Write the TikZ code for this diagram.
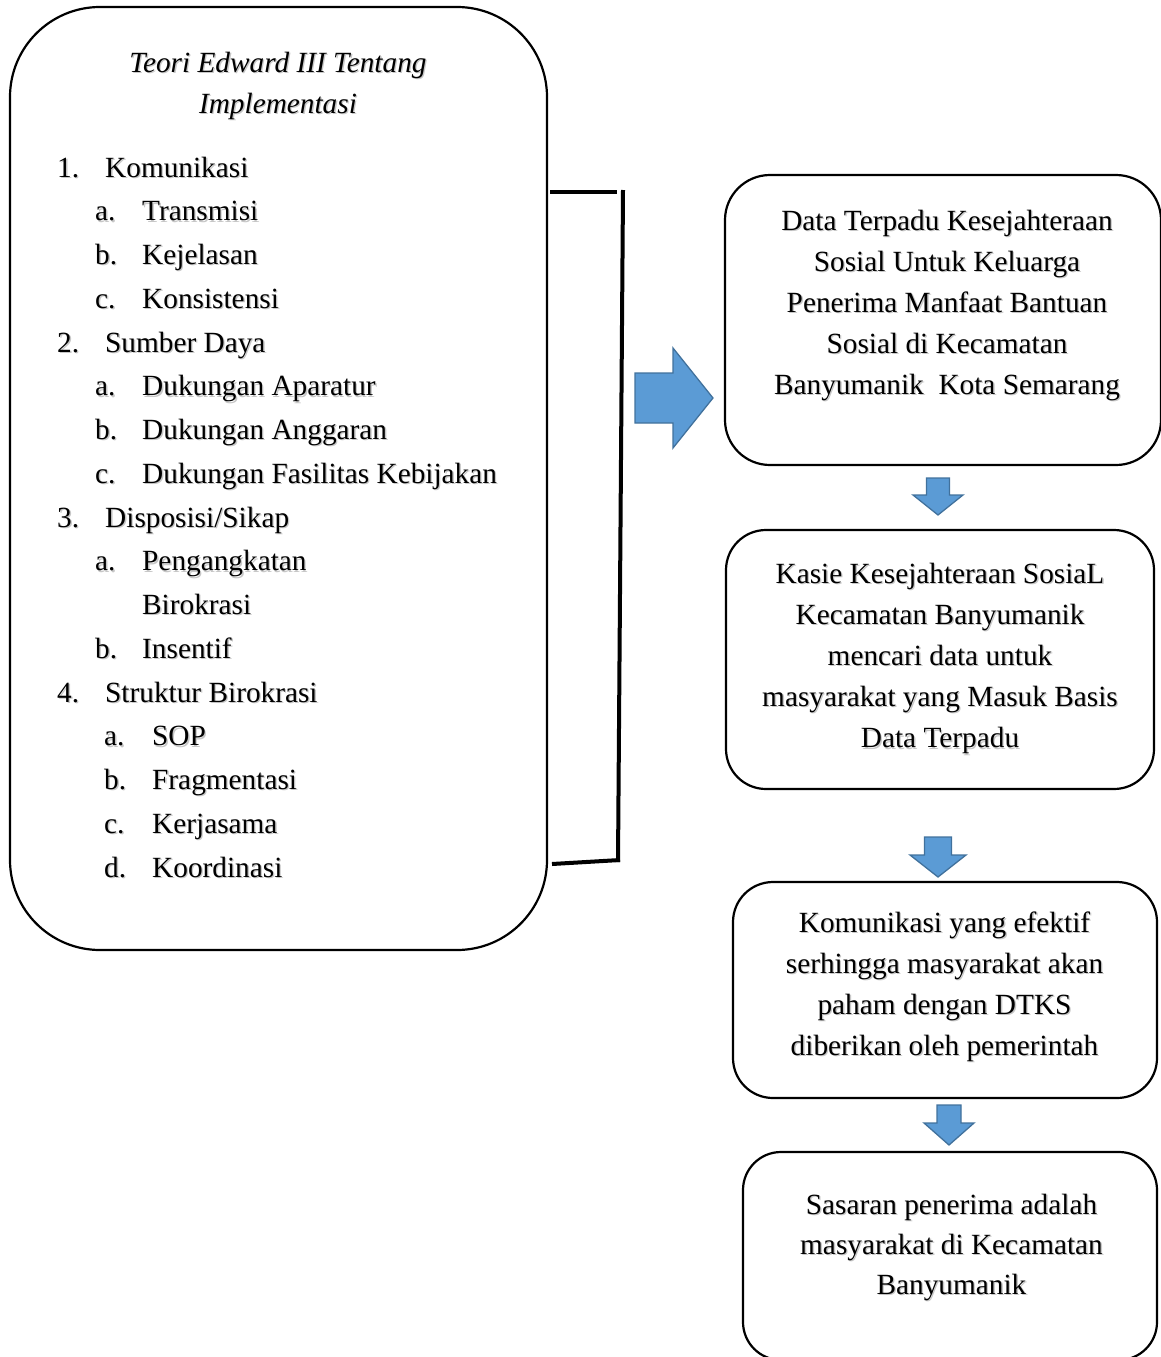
\documentclass[tikz,border=0pt]{standalone}
\usepackage{fontspec}
\setmainfont{Liberation Serif}
\usetikzlibrary{fit}
\definecolor{arrowfill}{HTML}{5B9BD5}
\definecolor{arrowline}{HTML}{41719C}
% text with a soft drop shadow
\newcommand\shd[1]{\leavevmode\rlap{\kern1.3pt\raisebox{-1.3pt}{\textcolor{black!22}{#1}}}#1}
% downward block arrow: centre x, top y, shoulder y, tip y, shaft half width, head half width
\newcommand\downblock[6]{%
  \draw[blockarrow] ({#1-#5},#2) -- ({#1+#5},#2) -- ({#1+#5},#3) -- ({#1+#6},#3)
    -- (#1,#4) -- ({#1-#6},#3) -- ({#1-#5},#3) -- cycle;}
\begin{document}
\begin{tikzpicture}[x=1pt,y=-1pt,
  box/.style={draw, line width=2.2pt, rounded corners=#1, inner sep=0pt},
  bracketline/.style={line width=4pt},
  blockarrow/.style={fill=arrowfill, draw=arrowline, line width=1.3pt, line join=miter},
  txt/.style={anchor=base, inner sep=0pt, font=\fontsize{29.3}{35}\selectfont},
  item/.style={anchor=base west, inner sep=0pt, font=\fontsize{29.3}{35}\selectfont}]
\useasboundingbox (0,0) rectangle (1160,1357);

% ---------- theory box ----------
\node[box=90pt, fit={(10,7) (547,950)}] (theory) {};
\node[txt, font=\fontsize{29.3}{35}\selectfont\itshape] (title1) at (278,72) {\shd{Teori Edward III Tentang}};
\node[txt, font=\fontsize{29.3}{35}\selectfont\itshape] (title2) at (278,113) {\shd{Implementasi}};

\foreach \k/\lx/\tx/\lab/\txt in {
  0/57/105/1./Komunikasi,
  1/95/142/a./Transmisi,
  2/95/142/b./Kejelasan,
  3/95/142/c./Konsistensi,
  4/57/105/2./Sumber Daya,
  5/95/142/a./Dukungan Aparatur,
  6/95/142/b./Dukungan Anggaran,
  7/95/142/c./Dukungan Fasilitas Kebijakan,
  8/57/105/3./Disposisi\slash Sikap,
  9/95/142/a./Pengangkatan,
  10/95/142//Birokrasi,
  11/95/142/b./Insentif,
  12/57/105/4./Struktur Birokrasi,
  13/104/152/a./SOP,
  14/104/152/b./Fragmentasi,
  15/104/152/c./Kerjasama,
  16/104/152/d./Koordinasi}{
  \node[item] (lab\k) at (\lx,{177+43.75*\k}) {\shd{\lab}};
  \node[item] (itm\k) at (\tx,{177+43.75*\k}) {\shd{\txt}};
}

% ---------- bracket ----------
\coordinate (brA) at (550,192);
\coordinate (brB) at (617,192);
\coordinate (brC) at (623,190);
\coordinate (brD) at (618,862);
\coordinate (brE) at (552,864);
\coordinate (brF) at (620,860);
\draw[bracketline] (brA) -- (brB);
\draw[bracketline] (brC) -- (brD);
\draw[bracketline] (brE) -- (brF);

% ---------- big right arrow ----------
\draw[blockarrow] (635,373) -- (673,373) -- (673,348) -- (713,398) -- (673,448)
  -- (673,423) -- (635,423) -- cycle;

% ---------- flow boxes ----------
\node[box=45pt, fit={(725,175) (1161,465)}] (dtks) {};
\foreach \t [count=\i from 0] in {Data Terpadu Kesejahteraan, Sosial Untuk Keluarga,
  Penerima Manfaat Bantuan, Sosial di Kecamatan, Banyumanik~ Kota Semarang}
  \node[txt] (dtks\i) at (947,{230+41*\i}) {\shd{\t}};

\downblock{938}{478}{495}{515}{11.5}{25}

\node[box=40pt, fit={(726,530) (1154,789)}] (kasie) {};
\foreach \t [count=\i from 0] in {Kasie Kesejahteraan SosiaL, Kecamatan Banyumanik,
  mencari data untuk, masyarakat yang Masuk Basis, Data Terpadu}
  \node[txt] (kasie\i) at (940,{583+41.2*\i}) {\shd{\t}};

\downblock{938}{837}{855}{877}{13.5}{28}

\node[box=40pt, fit={(733,882) (1157,1098)}] (komunikasi) {};
\foreach \t [count=\i from 0] in {Komunikasi yang efektif, serhingga masyarakat akan,
  paham dengan DTKS, diberikan oleh pemerintah}
  \node[txt] (kom\i) at (944.5,{932+41.2*\i}) {\shd{\t}};

\downblock{949}{1105}{1123}{1145}{12}{25}

\node[box=38pt, fit={(743,1152) (1157,1360)}] (sasaran) {};
\foreach \t [count=\i from 0] in {Sasaran penerima adalah, masyarakat di Kecamatan, Banyumanik}
  \node[txt] (sas\i) at (951.5,{1214+40.3*\i}) {\shd{\t}};
\end{tikzpicture}
\end{document}
